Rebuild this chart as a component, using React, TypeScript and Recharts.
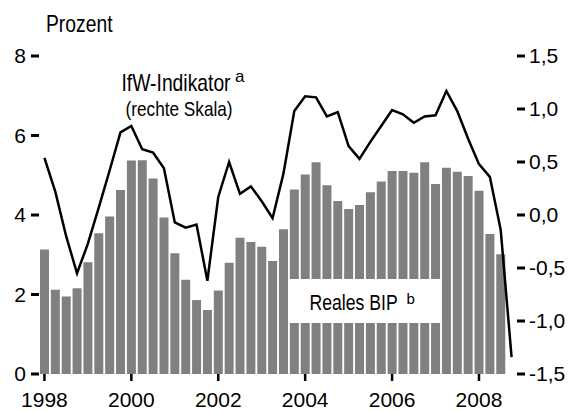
import React from "react";
import {
  ComposedChart,
  Bar,
  Line,
  XAxis,
  YAxis,
  ReferenceArea,
} from "recharts";

const years = [1998, 1999, 2000, 2001, 2002, 2003, 2004, 2005, 2006, 2007, 2008];
const quarterNames = ["Q1", "Q2", "Q3", "Q4"];
const quarters: string[] = years.flatMap((y) => quarterNames.map((q) => `${y}${q}`));

// Reales BIP (left axis, Prozent), 1998Q1 .. 2008Q3
const bip: number[] = [
  3.13, 2.12, 1.95, 2.16, 2.81, 3.54, 3.96, 4.63, 5.37, 5.38, 4.92, 3.94,
  3.04, 2.37, 1.86, 1.61, 2.10, 2.80, 3.43, 3.32, 3.20, 2.84, 3.64, 4.64,
  5.02, 5.33, 4.75, 4.35, 4.15, 4.25, 4.57, 4.84, 5.11, 5.11, 5.06, 5.33,
  4.78, 5.19, 5.09, 4.98, 4.61, 3.52, 3.01,
];

// IfW-Indikator (right axis), 1998Q1 .. 2008Q4
const ifw: number[] = [
  0.54, 0.22, -0.2, -0.55, -0.27, 0.07, 0.42, 0.78, 0.84, 0.62, 0.59, 0.44,
  -0.07, -0.12, -0.09, -0.62, 0.17, 0.5, 0.2, 0.27, 0.13, -0.03, 0.39, 0.98,
  1.12, 1.11, 0.93, 0.97, 0.65, 0.53, 0.69, 0.84, 0.99, 0.95, 0.87, 0.93,
  0.94, 1.17, 0.98, 0.72, 0.48, 0.36, -0.14, -1.34,
];

const xTicks = ["1998Q1", "2000Q1", "2002Q1", "2004Q1", "2006Q1", "2008Q1"];
const leftTicks = [0, 2, 4, 6, 8];
const rightTicks = [-1.5, -1, -0.5, 0, 0.5, 1, 1.5];

const data = quarters.map((q, i) => ({
  q,
  bip: i < bip.length ? bip[i] : null,
  ifw: ifw[i],
}));

const font = "Liberation Sans, Arial, Helvetica, sans-serif";

const boxLabel = () => (
  <g>
    <text
      transform="translate(301.5,302) scale(0.82,1)"
      fontSize={21.5}
      fontFamily={font}
      fill="#000"
    >
      Reales BIP
    </text>
    <text x={398.5} y={296} fontSize={15} fontFamily={font} fill="#000">
      b
    </text>
  </g>
);

export default function App() {
  return (
    <ComposedChart
      width={567}
      height={404}
      data={data}
      margin={{ top: 48, right: 0, bottom: 0, left: 0 }}
      barCategoryGap="9%"
    >
      <XAxis
        dataKey="q"
        ticks={xTicks}
        interval={0}
        tickFormatter={(v: string) => v.slice(0, 4)}
        axisLine={false}
        tickLine={{ stroke: "#000", strokeWidth: 2.5 }}
        tickSize={7}
        tickMargin={11}
        height={38}
        tick={{ fontSize: 21, fill: "#000", fontFamily: font }}
      />
      <YAxis
        yAxisId="left"
        domain={[0, 8]}
        ticks={leftTicks}
        axisLine={false}
        tickLine={{ stroke: "#000", strokeWidth: 3 }}
        tickSize={8}
        tickMargin={5}
        width={31}
        tick={{ fontSize: 21, fill: "#000", fontFamily: font }}
      />
      <YAxis
        yAxisId="right"
        orientation="right"
        domain={[-1.5, 1.5]}
        ticks={rightTicks}
        axisLine={false}
        tickLine={{ stroke: "#000", strokeWidth: 3 }}
        tickSize={8}
        tickMargin={4}
        width={58}
        tickFormatter={(v: number) => v.toFixed(1).replace(".", ",")}
        tick={{ fontSize: 21, fill: "#000", fontFamily: font }}
      />
      <Bar yAxisId="left" dataKey="bip" fill="#808080" isAnimationActive={false} />
      <ReferenceArea
        yAxisId="left"
        x1="2003Q4"
        x2="2007Q1"
        y1={1.28}
        y2={2.39}
        fill="#ffffff"
        fillOpacity={1}
        stroke="none"
        zIndex={350}
        label={boxLabel}
      />
      <Line
        yAxisId="right"
        dataKey="ifw"
        stroke="#000"
        strokeWidth={2.5}
        dot={false}
        type="linear"
        isAnimationActive={false}
      />
      <text
        transform="translate(38,23.5) scale(0.84,1)"
        fontSize={23}
        fontFamily={font}
        fill="#000"
      >
        Prozent
      </text>
      <text
        transform="translate(113.5,83) scale(0.84,1)"
        fontSize={23}
        fontFamily={font}
        fill="#000"
      >
        IfW-Indikator
      </text>
      <text x={227} y={74} fontSize={17} fontFamily={font} fill="#000">
        a
      </text>
      <text
        transform="translate(117.5,107.5) scale(0.82,1)"
        fontSize={21}
        fontFamily={font}
        fill="#000"
      >
        (rechte Skala)
      </text>
    </ComposedChart>
  );
}
